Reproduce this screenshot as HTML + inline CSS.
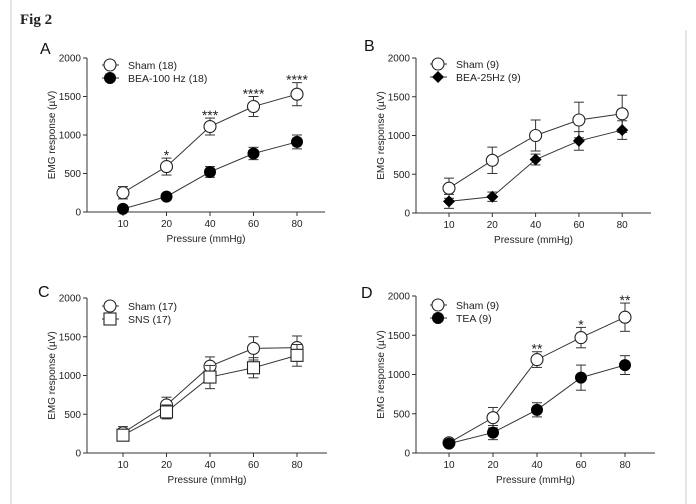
<!DOCTYPE html>
<html><head><meta charset="utf-8"><style>
body{margin:0;background:#fff;}
svg{display:block;font-family:"Liberation Sans",Arial,sans-serif;}
</style></head><body>
<svg id="fig" width="696" height="504" viewBox="0 0 696 504" xmlns="http://www.w3.org/2000/svg">
<line x1="11" y1="0" x2="11" y2="504" stroke="#ccc" stroke-width="1"/>
<line x1="686" y1="30" x2="686" y2="504" stroke="#ccc" stroke-width="1"/>
<text x="20" y="24" font-family="Liberation Serif,serif" font-weight="bold" font-size="15" fill="#222">Fig 2</text>
</svg>
<script>
const categories = [10, 20, 40, 60, 80];
const yTicks = [0, 500, 1000, 1500, 2000];
const shamA = [250, 590, 1110, 1370, 1530];
const shamAErr = [80, 110, 110, 130, 150];
const beaA = [40, 200, 520, 760, 910];
const beaAErr = [30, 40, 70, 80, 90];
const starsA = ["", "*", "***", "****", "****"];
const shamB = [320, 680, 1000, 1200, 1280];
const shamBErr = [130, 170, 200, 230, 240];
const beaB = [150, 210, 690, 930, 1070];
const beaBErr = [90, 60, 70, 120, 120];
const shamC = [260, 620, 1120, 1350, 1360];
const shamCErr = [80, 100, 120, 150, 150];
const snsC = [230, 530, 980, 1100, 1260];
const snsCErr = [70, 90, 150, 130, 140];
const shamD = [130, 450, 1190, 1470, 1730];
const shamDErr = [30, 130, 100, 130, 180];
const teaD = [120, 260, 550, 960, 1120];
const teaDErr = [40, 90, 90, 160, 120];
const starsD = ["", "", "**", "*", "**"];

const NS = "http://www.w3.org/2000/svg";
const svg = document.getElementById('fig');
function mk(tag, attrs, parent, txt){
  const e = document.createElementNS(NS, tag);
  for (const k in attrs) e.setAttribute(k, attrs[k]);
  if (txt !== undefined) e.textContent = txt;
  (parent || svg).appendChild(e);
  return e;
}
function marker(g, kind, cx, cy){
  let m;
  if (kind === 'open') m = mk('circle', {cx, cy, r: 6, fill: '#fff', stroke: '#222', 'stroke-width': 1.1}, g);
  else if (kind === 'filled') m = mk('circle', {cx, cy, r: 6, fill: '#000'}, g);
  else if (kind === 'diamond') m = mk('polygon', {points: `${cx},${cy-6} ${cx+6},${cy} ${cx},${cy+6} ${cx-6},${cy}`, fill: '#000'}, g);
  else m = mk('rect', {x: cx-6, y: cy-6, width: 12, height: 12, fill: '#fff', stroke: '#222', 'stroke-width': 1.1}, g);
  return m;
}
function panel(p){
  const g = mk('g', {});
  
  
  const xs = i => p.x10 + i * p.dx;
  const ys = v => p.y0 - v / 2000 * (p.y0 - p.y2000);
  const lbl = mk('text', {x: p.lx, y: p.ly, 'font-size': 16, fill: '#111'}, g, p.letter);
  
  
  const ya = mk('line', {x1: p.ax, y1: p.y2000, x2: p.ax, y2: p.y0, stroke: '#333', 'stroke-width': 1}, g);
  
  
  const xa = mk('line', {x1: p.ax, y1: p.y0, x2: p.axEnd, y2: p.y0, stroke: '#333', 'stroke-width': 1}, g);
  
  
  yTicks.forEach(t => {
    mk('line', {x1: p.ax - 4, y1: ys(t), x2: p.ax, y2: ys(t), stroke: '#333'}, g);
    const tl = mk('text', {x: p.ax - 6, y: ys(t) + 3.5, 'font-size': 10, 'text-anchor': 'end', fill: '#222'}, g, t);
    
    
  });
  categories.forEach((c, i) => {
    mk('line', {x1: xs(i), y1: p.y0, x2: xs(i), y2: p.y0 + 4, stroke: '#333'}, g);
    const tl = mk('text', {x: xs(i), y: p.y0 + 15, 'font-size': 10, 'text-anchor': 'middle', fill: '#222'}, g, c);
    
    
  });
  const xt = mk('text', {x: (p.ax + p.axEnd) / 2, y: p.y0 + 30, 'font-size': 10, 'text-anchor': 'middle', fill: '#222'}, g, 'Pressure (mmHg)');
  
  
  const yc = (p.y0 + p.y2000) / 2;
  const yt = mk('text', {x: p.ax - 32, y: yc, 'font-size': 10, 'text-anchor': 'middle', fill: '#222', transform: `rotate(-90 ${p.ax - 32} ${yc})`}, g, 'EMG response (µV)');
  
  
  p.series.forEach((s, si) => {
    const sg = mk('g', {}, g);
    
    
    const pts = s.vals.map((v, i) => `${xs(i)},${ys(v)}`).join(' ');
    mk('polyline', {points: pts, fill: 'none', stroke: '#333', 'stroke-width': 1}, sg);
    s.vals.forEach((v, i) => {
      const e = s.err[i], x = xs(i);
      mk('line', {x1: x, y1: ys(v + e), x2: x, y2: ys(v - e), stroke: '#333'}, sg);
      mk('line', {x1: x - 5, y1: ys(v + e), x2: x + 5, y2: ys(v + e), stroke: '#333'}, sg);
      mk('line', {x1: x - 5, y1: ys(v - e), x2: x + 5, y2: ys(v - e), stroke: '#333'}, sg);
    });
    s.vals.forEach((v, i) => {
      const m = marker(sg, s.kind, xs(i), ys(v));
      
      
    });
    const ly = p.legY + si * 13;
    const lg = mk('g', {}, g);
    
    
    mk('line', {x1: p.legX - 8, y1: ly, x2: p.legX + 9, y2: ly, stroke: '#333'}, lg);
    marker(lg, s.kind, p.legX, ly);
    mk('text', {x: p.legX + 18, y: ly + 4, 'font-size': 10.5, fill: '#222'}, lg, s.name);
  });
  if (p.stars) {
    p.stars.forEach((st, i) => {
      if (!st) return;
      const s = p.series[0];
      const t = mk('text', {x: xs(i), y: ys(s.vals[i] + s.err[i]) + 2, 'font-size': 14, 'text-anchor': 'middle', fill: '#222'}, g, st);
      
      
    });
  }
}
panel({letter: 'A', lx: 40, ly: 54, ax: 87, axEnd: 325, x10: 123, dx: 43.5, y0: 212, y2000: 58, legX: 110, legY: 65, stars: starsA,
  series: [{key: 'sham-a', name: 'Sham (18)', kind: 'open', vals: shamA, err: shamAErr},
           {key: 'bea-100hz', name: 'BEA-100 Hz (18)', kind: 'filled', vals: beaA, err: beaAErr}]});
panel({letter: 'B', lx: 364, ly: 51, ax: 416, axEnd: 651, x10: 449, dx: 43.3, y0: 213, y2000: 58, legX: 438, legY: 64,
  series: [{key: 'sham-b', name: 'Sham (9)', kind: 'open', vals: shamB, err: shamBErr},
           {key: 'bea-25hz', name: 'BEA-25Hz (9)', kind: 'diamond', vals: beaB, err: beaBErr}]});
panel({letter: 'C', lx: 38, ly: 297, ax: 87, axEnd: 327, x10: 123, dx: 43.5, y0: 453, y2000: 298, legX: 110, legY: 306,
  series: [{key: 'sham-c', name: 'Sham (17)', kind: 'open', vals: shamC, err: shamCErr},
           {key: 'sns', name: 'SNS (17)', kind: 'square', vals: snsC, err: snsCErr}]});
panel({letter: 'D', lx: 361, ly: 298, ax: 416, axEnd: 655, x10: 449, dx: 44, y0: 453, y2000: 296, legX: 438, legY: 305, stars: starsD,
  series: [{key: 'sham-d', name: 'Sham (9)', kind: 'open', vals: shamD, err: shamDErr},
           {key: 'tea', name: 'TEA (9)', kind: 'filled', vals: teaD, err: teaDErr}]});
</script>
</body></html>
